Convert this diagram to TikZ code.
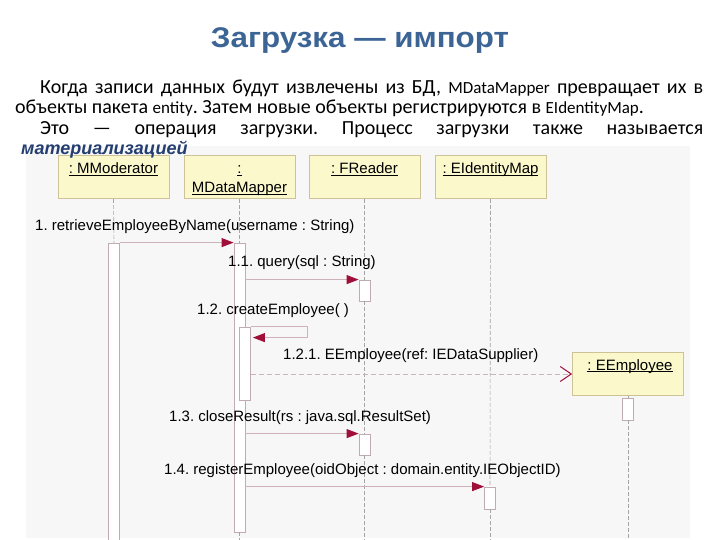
\documentclass[tikz,border=0pt]{standalone}
\usepackage{fontspec}
\setmainfont{Carlito}
\newfontfamily\arialf{Liberation Sans}
\usetikzlibrary{arrows.meta}
\frenchspacing
\definecolor{titleblue}{RGB}{60,101,150}
\definecolor{emphblue}{RGB}{36,62,112}
\definecolor{boxfill}{RGB}{251,249,204}
\definecolor{boxline}{RGB}{205,195,150}
\definecolor{lifegray}{RGB}{165,165,165}
\definecolor{msgline}{RGB}{205,178,186}
\definecolor{arrowred}{RGB}{160,14,58}
\definecolor{actline}{RGB}{190,172,178}
\definecolor{diagbg}{RGB}{247,247,247}
\newcommand\ulab[1]{\underline{\smash{#1}}}
\begin{document}
\begin{tikzpicture}[x=1pt,y=-1pt,
  objbox/.style={draw=boxline, fill=boxfill, line width=0.8pt, minimum width=111pt, minimum height=43pt, inner sep=0pt},
  objlabel/.style={font=\arialf\fontsize{15}{17}\selectfont, inner sep=0pt, anchor=base},
  act/.style={draw=actline, fill=white, line width=0.8pt, minimum width=11pt, inner sep=0pt},
  lifeline/.style={draw=lifegray, dashed, dash pattern=on 4pt off 2pt, line width=0.6pt},
  msg/.style={draw=msgline, line width=0.9pt},
  call/.style={msg, -{Triangle[length=12pt,width=9pt,color=arrowred]}},
  create/.style={msg, dashed, dash pattern=on 5pt off 3pt, -{Straight Barb[length=11pt,width=15pt,color=arrowred,line width=1pt]}},
  msglabel/.style={font=\arialf\fontsize{15}{17}\selectfont, inner sep=0pt, anchor=west},
  bodyline/.style={font=\fontsize{20}{23}\selectfont, inner sep=0pt, anchor=base west}
]
\useasboundingbox (0,0) rectangle (720,540);
\fill[white] (0,0) rectangle (720,540);
\fill[diagbg] (26,146) rectangle (690,538);

% title and text
\node[font=\arialf\bfseries\fontsize{28.5}{31}\selectfont, text=titleblue, inner sep=0pt, anchor=base] (title) at (360,48) {\scalebox{1.1}[1]{Загрузка — импорт}};
\node[bodyline] (l1) at (40,94) {\makebox[663pt][s]{Когда записи данных будут извлечены из БД, {\fontsize{17}{20}\selectfont MDataMapper} превращает их в}};
\node[bodyline] (l2) at (15,114) {объекты пакета {\fontsize{17}{20}\selectfont entity}. Затем новые объекты регистрируются в {\fontsize{17}{20}\selectfont EIdentityMap}.};
\node[bodyline] (l3) at (40,135) {\makebox[663pt][s]{Это — операция загрузки. Процесс загрузки также называется}};

% object boxes
\node[objbox] (mm) at (113.5,177) {};
\node[objbox] (dm) at (239.5,177) {};
\node[objbox] (fr) at (364.5,177) {};
\node[objbox] (ei) at (490.5,177) {};
\node[objbox] (ee) at (628,374) {};
\node[objlabel] (mmL) at (113.5,174) {\ulab{: MModerator}};
\node[objlabel] (dmL1) at (239.5,174) {\ulab{:}};
\node[objlabel] (dmL2) at (239.5,193) {\ulab{MDataMapper}};
\node[objlabel] (frL) at (364.5,174) {\ulab{: FReader}};
\node[objlabel] (eiL) at (490.5,174) {\ulab{: EIdentityMap}};
\node[objlabel] (eeL) at (630,370) {\ulab{: EEmployee}};

\node[font=\arialf\bfseries\itshape\fontsize{18}{21}\selectfont, text=emphblue, inner sep=0pt, anchor=base west] (l4) at (21,155) {материализацией};

% activations
\node[act, minimum height=302pt] (mmA) at (114,394) {};
\node[act, minimum height=289pt] (dmA) at (239.5,387.5) {};
\node[act, minimum height=21pt] (fr1) at (364.5,290.5) {};
\node[act, minimum height=21pt] (fr2) at (364.5,444.5) {};
\node[act, minimum height=22pt] (eiA) at (490,498) {};
\node[act, minimum height=22pt] (eeA) at (628,409) {};

% lifelines
\draw[lifeline] (mm.south) -- (mmA.north);
\draw[lifeline] (dm.south) -- (dmA.north);
\draw[lifeline] (dmA.south) -- (239.5,540);
\draw[lifeline] (fr.south) -- (fr1.north);
\draw[lifeline] (fr1.south) -- (fr2.north);
\draw[lifeline] (fr2.south) -- (364.5,540);
\draw[lifeline] (ei.south) -- (eiA.north);
\draw[lifeline] (eiA.south) -- (490,540);
\draw[lifeline] (ee.south) -- (eeA.north);
\draw[lifeline] (eeA.south) -- (628,540);

\node[act, minimum height=73pt] (dmB) at (245,363.5) {};

% messages
\draw[call] (mmA.north east) -- (dmA.north west);
\draw[call] (dmA.east |- fr1.north) -- (fr1.north west);
\draw[call] (dmB.north east) -| ++(57,11) -- ++(-55,0);
\draw[create] (dmB.east |- ee.west) -- (ee.west);
\draw[call] (dmA.east |- fr2.north) -- (fr2.north west);
\draw[call] (dmA.east |- eiA.north) -- (eiA.north west);

\node[msglabel] (t1) at (35,227) {1. retrieveEmployeeByName(username : String)};
\node[msglabel] (t11) at (228,263) {1.1. query(sql : String)};
\node[msglabel] (t12) at (197,311) {1.2. createEmployee( )};
\node[msglabel] (t121) at (283,356) {1.2.1. EEmployee(ref: IEDataSupplier)};
\node[msglabel] (t13) at (169,418) {1.3. closeResult(rs : java.sql.ResultSet)};
\node[msglabel] (t14) at (164,471) {1.4. registerEmployee(oidObject : domain.entity.IEObjectID)};
\end{tikzpicture}
\end{document}
